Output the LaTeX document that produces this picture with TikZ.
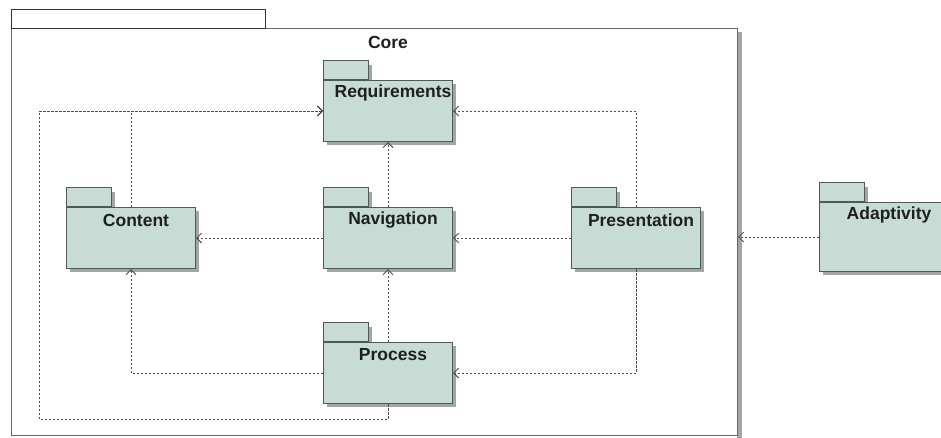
\documentclass[tikz,border=0pt]{standalone}
\usepackage{fontspec}
\setmainfont{Liberation Sans}
\usetikzlibrary{arrows.meta,calc}
\definecolor{pkgfill}{HTML}{C6DCD5}
\definecolor{pkgline}{HTML}{4E5A56}
\definecolor{shadowc}{HTML}{A4A6A5}
\definecolor{depc}{HTML}{505050}
\tikzset{
  pkgbody/.style={draw=pkgline, fill=pkgfill, line width=1pt, inner sep=0pt,
    minimum width=129pt, minimum height=61pt, anchor=north west},
  pkgtab/.style={draw=pkgline, fill=pkgfill, line width=1pt, inner sep=0pt,
    minimum width=45pt, minimum height=19pt, anchor=south west},
  pkglabel/.style={font=\fontsize{17.5}{19}\selectfont\bfseries, text=black!88, inner sep=0pt},
  dep/.style={draw=depc, line width=0.8pt, dash pattern=on 2.5pt off 1.5pt,
    -{Straight Barb[length=5pt,width=10pt,line width=0.9pt]}},
}
% name, left x, body top y, label, body height
\newcommand\umlpkg[5]{%
  \fill[shadowc] (#2+45,#3-15) rectangle (#2+49,#3);
  \fill[shadowc] (#2+4,#3+4) rectangle (#2+133,#3+#5+4);
  \node[pkgtab] (#1-tab) at (#2,#3) {};
  \node[pkgbody, minimum height=#5 pt] (#1) at (#2,#3) {};
  \node[pkglabel] (#1-label) at (#2+70,#3+13) {#4};
}
\begin{document}
\begin{tikzpicture}[x=1pt,y=-1pt]
\useasboundingbox (0,0) rectangle (941,437);
\clip (0,0) rectangle (941,437);
% Core frame
\fill[shadowc] (737,32) rectangle (742,440);
\node[draw=black!60, fill=white, line width=1pt, inner sep=0pt, minimum width=726pt,
  minimum height=407pt, anchor=north west] (core) at (11,28) {};
\node[draw=black!80, fill=white, line width=1.1pt, inner sep=0pt, minimum width=254pt,
  minimum height=19pt, anchor=north west] (coretab) at (11,9) {};
\node[pkglabel] (corelabel) at (388,42) {Core};
% packages
\umlpkg{req}{323}{80}{Requirements}{61}
\umlpkg{content}{66}{207}{Content}{61}
\umlpkg{nav}{323}{207}{Navigation}{61}
\umlpkg{pres}{571}{207}{Presentation}{61}
\umlpkg{process}{323}{342}{Process}{61}
\umlpkg{adapt}{819}{202}{Adaptivity}{69}
% dependencies
\coordinate (bl) at (39,419);
\draw[dep] (content.north) |- (req.west);
\draw[dep] (process.south) |- (bl) |- (req.west);
\draw[dep] (nav.north) -- (req.south);
\draw[dep] (pres.north) |- (req.east);
\draw[dep] (nav.west) -- (content.east);
\draw[dep] (pres.west) -- (nav.east);
\draw[dep] (process.west) -| (content.south);
\draw[dep] (process.north) -- (nav.south);
\draw[dep] (pres.south) |- (process.east);
\draw[dep] (adapt.west) -- (adapt.west -| core.east);
\end{tikzpicture}
\end{document}
